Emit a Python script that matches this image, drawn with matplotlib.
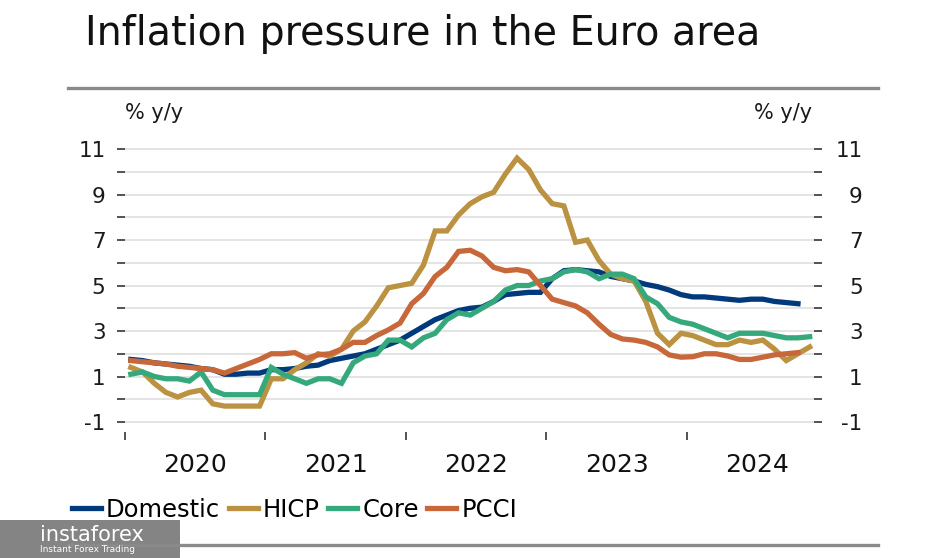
import numpy as np
import matplotlib
matplotlib.use("Agg")
import matplotlib.pyplot as plt
from matplotlib.lines import Line2D
from matplotlib.patches import Rectangle

# monthly series, Jan 2020 onwards
hicp = [1.4, 1.2, 0.7, 0.3, 0.1, 0.3, 0.4, -0.2, -0.3, -0.3, -0.3, -0.3,
        0.9, 0.9, 1.3, 1.6, 2.0, 1.9, 2.2, 3.0, 3.4, 4.1, 4.9, 5.0,
        5.1, 5.9, 7.4, 7.4, 8.1, 8.6, 8.9, 9.1, 9.9, 10.6, 10.1, 9.2,
        8.6, 8.5, 6.9, 7.0, 6.1, 5.5, 5.3, 5.2, 4.3, 2.9, 2.4, 2.9,
        2.8, 2.6, 2.4, 2.4, 2.6, 2.5, 2.6, 2.2, 1.7, 2.0, 2.3]
core = [1.1, 1.2, 1.0, 0.9, 0.9, 0.8, 1.2, 0.4, 0.2, 0.2, 0.2, 0.2,
        1.4, 1.1, 0.9, 0.7, 0.9, 0.9, 0.7, 1.6, 1.9, 2.0, 2.6, 2.6,
        2.3, 2.7, 2.9, 3.5, 3.8, 3.7, 4.0, 4.3, 4.8, 5.0, 5.0, 5.2,
        5.3, 5.6, 5.7, 5.6, 5.3, 5.5, 5.5, 5.3, 4.5, 4.2, 3.6, 3.4,
        3.3, 3.1, 2.9, 2.7, 2.9, 2.9, 2.9, 2.8, 2.7, 2.7, 2.75]
domestic = [1.75, 1.7, 1.6, 1.55, 1.5, 1.45, 1.35, 1.3, 1.1, 1.1, 1.15, 1.15,
            1.3, 1.3, 1.35, 1.45, 1.5, 1.7, 1.8, 1.9, 2.0, 2.2, 2.4, 2.6,
            2.9, 3.2, 3.5, 3.7, 3.9, 4.0, 4.05, 4.3, 4.6, 4.65, 4.7, 4.7,
            5.3, 5.65, 5.7, 5.65, 5.6, 5.4, 5.3, 5.2, 5.05, 4.95, 4.8, 4.6,
            4.5, 4.5, 4.45, 4.4, 4.35, 4.4, 4.4, 4.3, 4.25, 4.2]
pcci = [1.7, 1.65, 1.6, 1.55, 1.45, 1.4, 1.35, 1.3, 1.15, 1.35, 1.55, 1.75,
        2.0, 2.0, 2.05, 1.8, 1.95, 2.0, 2.2, 2.5, 2.5, 2.8, 3.05, 3.35,
        4.2, 4.65, 5.4, 5.8, 6.5, 6.55, 6.3, 5.8, 5.65, 5.7, 5.6, 5.0,
        4.4, 4.25, 4.1, 3.8, 3.3, 2.85, 2.65, 2.6, 2.5, 2.3, 1.95, 1.85,
        1.87, 2.0, 2.0, 1.9, 1.75, 1.75, 1.85, 1.95, 2.0, 2.05]
years = ["2020", "2021", "2022", "2023", "2024"]
series_names = ["Domestic", "HICP", "Core", "PCCI"]
colors = ["#003a7d", "#bb9242", "#36a97c", "#c8683a"]

W, H = 930, 558
fig = plt.figure(figsize=(W / 100, H / 100), dpi=100)
fx = lambda x: x / W
fy = lambda y: 1 - y / H

ax = fig.add_axes([fx(125), fy(432), fx(814) - fx(125), fy(144.5) - fy(432)])
for name, vals, c in zip(series_names, [domestic, hicp, core, pcci], colors):
    ax.plot(np.arange(len(vals)), vals, color=c, lw=3.8, label=name,
            solid_joinstyle="miter")

ax.set_xlim(-0.42, 58.37)
ax.set_ylim(-1.44, 11.2)
for s in ax.spines.values():
    s.set_visible(False)

ax.set_yticks(np.arange(-1, 12, 2))
ax.set_yticks(np.arange(0, 11, 2), minor=True)
ax.set_yticklabels([str(v) for v in range(-1, 12, 2)])
for v in range(-1, 12):
    ax.axhline(v, color="#e2e2e2", lw=1.3, zorder=0)
ax.tick_params(axis="y", which="both", length=6, width=1.3, color="#444444",
               pad=8, labelsize=15.5, labelcolor="#1a1a1a")

ax.set_xticks([-0.5 + 12 * i for i in range(5)])
ax.set_xticklabels([])
ax.set_xticks([5.5 + 12 * i for i in range(5)], minor=True)
ax.set_xticklabels(years, minor=True)
ax.tick_params(axis="x", which="major", length=6, width=1.3, color="#444444", direction="out")
ax.tick_params(axis="x", which="minor", length=0, pad=15, labelsize=18, labelcolor="#111111")

ax2 = ax.twinx()
ax2.set_ylim(ax.get_ylim())
for s in ax2.spines.values():
    s.set_visible(False)
ax2.set_yticks(np.arange(-1, 12, 2))
ax2.set_yticks(np.arange(0, 11, 2), minor=True)
ax2.set_yticklabels([str(v) for v in range(-1, 12, 2)])
ax2.tick_params(axis="y", which="both", length=6, width=1.3, color="#444444",
                pad=29, labelsize=15.5, labelcolor="#1a1a1a")
for t in ax2.get_yticklabels():
    t.set_horizontalalignment("right")

fig.text(fx(125), fy(113), "% y/y", fontsize=15, va="center", ha="left", color="#1a1a1a")
fig.text(fx(812), fy(113), "% y/y", fontsize=15, va="center", ha="right", color="#1a1a1a")

fig.text(fx(85), fy(34), "Inflation pressure in the Euro area", fontsize=28.5,
         va="center", ha="left", color="#111111", fontweight="medium")

fig.add_artist(Line2D([fx(68), fx(878)], [fy(88), fy(88)], color="#8a8a8a", lw=2.4))
fig.add_artist(Line2D([fx(68), fx(878)], [fy(545), fy(545)], color="#8a8a8a", lw=2.4))

fig.legend(loc="center left", bbox_to_anchor=(fx(72), fy(510)), ncol=4, frameon=False,
           fontsize=17.5, handlelength=1.2, handletextpad=0.2, columnspacing=0.35,
           borderaxespad=0, borderpad=0)

# watermark
fig.add_artist(Rectangle((0, 0), fx(180), fy(520), transform=fig.transFigure,
                         color="#6f6f6f", alpha=0.85, lw=0))
fig.text(fx(40), fy(535), "instaforex", fontsize=15, color="white", va="center", ha="left")
fig.text(fx(40), fy(550), "Instant Forex Trading", fontsize=6.5, color="white", va="center", ha="left")

fig.savefig("out.png", dpi=100)
